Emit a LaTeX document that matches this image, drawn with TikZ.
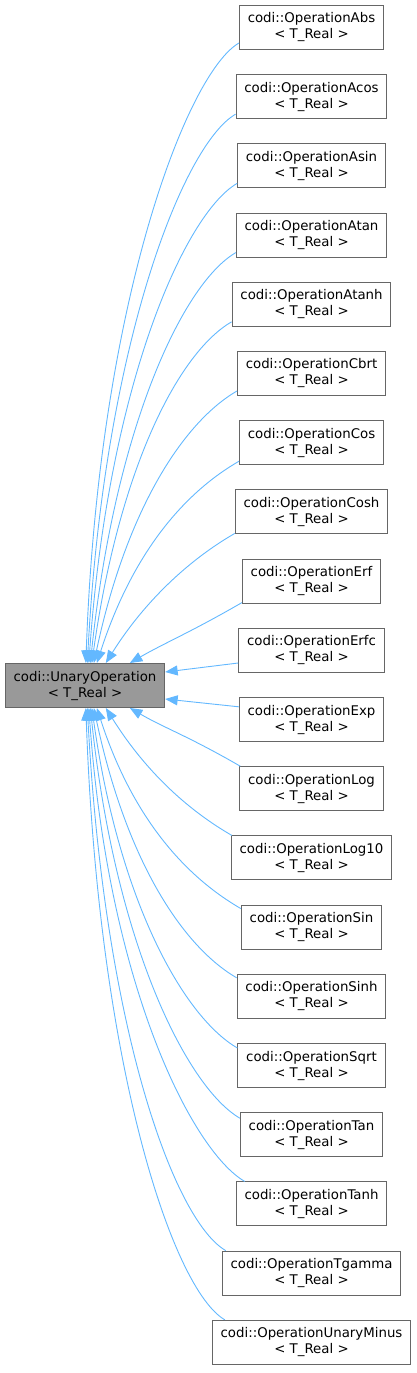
\documentclass[tikz,border=0pt]{standalone}
\usepackage{fontspec}
\setmainfont{DejaVu Sans}
\usetikzlibrary{arrows.meta,calc,positioning}
\definecolor{edgeblue}{HTML}{63B8FF}
\definecolor{boxline}{HTML}{666666}
\definecolor{basefill}{HTML}{999999}
\tikzset{
    every node/.append style={font=\fontsize{13.33}{16}\selectfont},
    cls/.style={draw=boxline, fill=white, line width=1pt, align=center,
        minimum height=44pt, inner xsep=8.3pt, inner ysep=2pt},
    basecls/.style={cls, fill=basefill},
    inherit/.style={draw=edgeblue, line width=0.9pt,
        -{Triangle[length=12.5pt,width=10pt]}}
}

\begin{document}
\begin{tikzpicture}[x=1pt,y=1pt]
    \useasboundingbox (0,0) rectangle (416,-1373);

    % derived operations, one per row
    \foreach \opname [count=\i from 0] in {Abs,Acos,Asin,Atan,Atanh,Cbrt,Cos,Cosh,Erf,Erfc,Exp,Log,Log10,Sin,Sinh,Sqrt,Tan,Tanh,Tgamma,UnaryMinus}
        \node[cls] (\opname) at (311.5,{-27.5-69.2*\i}) {codi::Operation\opname\\< T\_Real >};

    \node[basecls] (unary) at (85,-685.5) {codi::UnaryOperation\\< T\_Real >};

    % edges into the top of the base
    \foreach \opname/\dy/\ex/\inang/\indist in {Abs/7/81/88/360, Acos/5/82.5/87/320, Asin/5/84/86/280, Atan/5/85.5/84/240, Atanh/5/87/82/200, Cbrt/5/89/78/160, Cos/4/92/72/120, Cosh/1/101/58/65, Erf/1/125/30/40}
        \draw[inherit] ($(\opname.south west)+(0,\dy)$) to[out=210,in=\inang,out distance=60pt,in distance=\indist pt] ($(unary.north west)+(\ex,0)$);

    % edges into the side
    \draw[inherit] ($(Erfc.west)+(0,-12.7)$) -- ($(unary.east)+(0,13.5)$);
    \draw[inherit] ($(Exp.west)+(0,12.7)$) -- ($(unary.east)+(0,-13.5)$);

    % edges into the bottom
    \foreach \opname/\dx/\dy/\ex/\inang/\indist in {Log/1/0/125/-30/40, Log10/1/0/101/-58/65, Sin/0/4/92/-72/120, Sinh/0/4/89/-78/160, Sqrt/0/5/87/-82/200, Tan/0/6/85.5/-84/240, Tanh/9/0/84/-86/280, Tgamma/4/0/82.5/-87/320, UnaryMinus/13/0/81/-88/360}
        \draw[inherit] ($(\opname.north west)+(\dx,-\dy)$) to[out=150,in=\inang,out distance=60pt,in distance=\indist pt] ($(unary.south west)+(\ex,0)$);
\end{tikzpicture}
\end{document}
